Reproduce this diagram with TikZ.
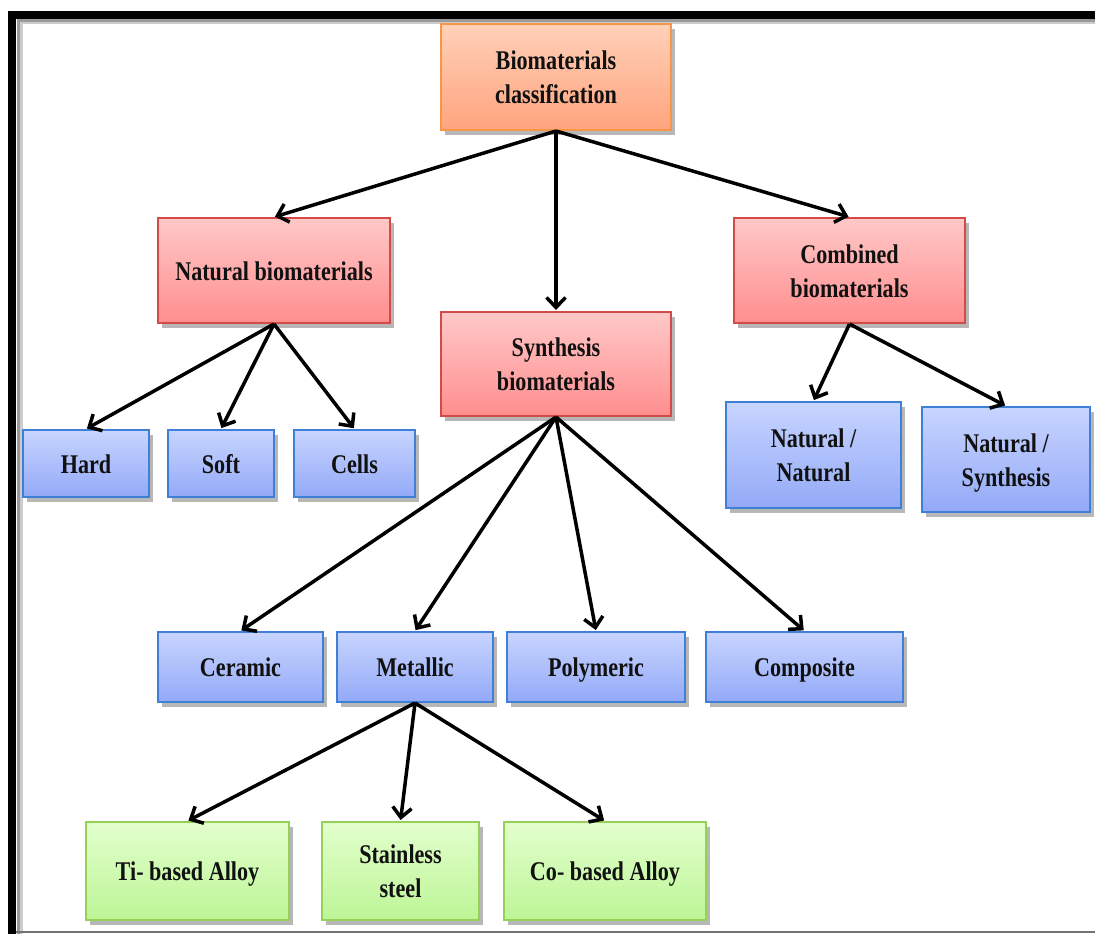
\documentclass[tikz,border=0pt]{standalone}
\usepackage{fontspec}
\setmainfont{Liberation Serif}[FakeStretch=0.82]
\usetikzlibrary{arrows.meta,shadows,shadings}
\definecolor{txt}{HTML}{111111}
\definecolor{orTop}{HTML}{FFD0B8}
\definecolor{orBot}{HTML}{FFA47E}
\definecolor{orLine}{HTML}{F79646}
\definecolor{rdTop}{HTML}{FFC8C8}
\definecolor{rdBot}{HTML}{FF8E8E}
\definecolor{rdLine}{HTML}{D24B48}
\definecolor{blTop}{HTML}{C8D5FF}
\definecolor{blBot}{HTML}{93A9F7}
\definecolor{blLine}{HTML}{3F7FD6}
\definecolor{grTop}{HTML}{E2FFCC}
\definecolor{grBot}{HTML}{BDF597}
\definecolor{grLine}{HTML}{97D058}
\newcommand{\mystrut}{\rule[-7.5pt]{0pt}{34pt}}
\tikzset{
  box/.style={rectangle, line width=2pt, align=center, text=txt,
    font=\fontsize{27}{34}\selectfont\bfseries, inner sep=0pt,
    drop shadow={shadow xshift=4pt, shadow yshift=-5pt, opacity=0.4, fill=black!70}},
  orbox/.style={box, draw=orLine, top color=orTop, bottom color=orBot},
  rdbox/.style={box, draw=rdLine, top color=rdTop, bottom color=rdBot},
  blbox/.style={box, draw=blLine, top color=blTop, bottom color=blBot},
  grbox/.style={box, draw=grLine, top color=grTop, bottom color=grBot},
  conn/.style={line width=3.5pt, black, -{Straight Barb[length=10pt,width=19pt,line width=3.5pt]}, shorten >=1pt},
}
\begin{document}
\begin{tikzpicture}[x=1pt,y=-1pt]
\useasboundingbox (0,0) rectangle (1095,934);
\fill[white] (0,0) rectangle (1095,934);
% frame
\draw[line width=5pt, black!20] (20,934) -- (20,22) -- (1095,22);
\draw[line width=3pt, black!40] (18.5,934) -- (18.5,20.5) -- (1095,20.5);
\draw[line width=8pt, black] (12,934) -- (12,15) -- (1095,15);
\draw[line width=1.5pt, black!55] (16,932) -- (1095,932);
% nodes
\node[orbox, minimum width=230pt, minimum height=106pt] (top) at (556,77) {\mystrut Biomaterials\\\mystrut classification};
\node[rdbox, minimum width=232pt, minimum height=105pt] (nat) at (274,270.5) {\mystrut Natural biomaterials};
\node[rdbox, minimum width=230pt, minimum height=104pt] (syn) at (556,364) {\mystrut Synthesis\\\mystrut biomaterials};
\node[rdbox, minimum width=231pt, minimum height=105pt] (comb) at (849.5,270.5) {\mystrut Combined\\\mystrut biomaterials};
\node[blbox, minimum width=126pt, minimum height=67pt] (hard) at (86,463.5) {\mystrut Hard};
\node[blbox, minimum width=106pt, minimum height=67pt] (soft) at (221,463.5) {\mystrut Soft};
\node[blbox, minimum width=121pt, minimum height=67pt] (cells) at (354.5,463.5) {\mystrut Cells};
\node[blbox, minimum width=175pt, minimum height=106pt] (nn) at (813.5,455) {\mystrut Natural /\\\mystrut Natural};
\node[blbox, minimum width=168pt, minimum height=105pt] (ns) at (1006,459.5) {\mystrut Natural /\\\mystrut Synthesis};
\node[blbox, minimum width=165pt, minimum height=70pt] (cer) at (240.5,667) {\mystrut Ceramic};
\node[blbox, minimum width=156pt, minimum height=70pt] (met) at (415,667) {\mystrut Metallic};
\node[blbox, minimum width=178pt, minimum height=70pt] (pol) at (596,667) {\mystrut Polymeric};
\node[blbox, minimum width=197pt, minimum height=70pt] (comp) at (804.5,667) {\mystrut Composite};
\node[grbox, minimum width=203pt, minimum height=98pt] (ti) at (187.5,871) {\mystrut Ti- based Alloy};
\node[grbox, minimum width=157pt, minimum height=98pt] (ss) at (400.5,871) {\mystrut Stainless\\\mystrut steel};
\node[grbox, minimum width=202pt, minimum height=98pt] (co) at (605,871) {\mystrut Co- based Alloy};
% connectors
\foreach \c in {nat,syn,comb} \draw[conn] (top.south) -- (\c.north);
\foreach \c in {hard,soft,cells} \draw[conn] (nat.south) -- (\c.north);
\foreach \c in {nn,ns} \draw[conn] (comb.south) -- (\c.north);
\foreach \c in {cer,met,pol,comp} \draw[conn] (syn.south) -- (\c.north);
\foreach \c in {ti,ss,co} \draw[conn] (met.south) -- (\c.north);
\end{tikzpicture}
\end{document}
